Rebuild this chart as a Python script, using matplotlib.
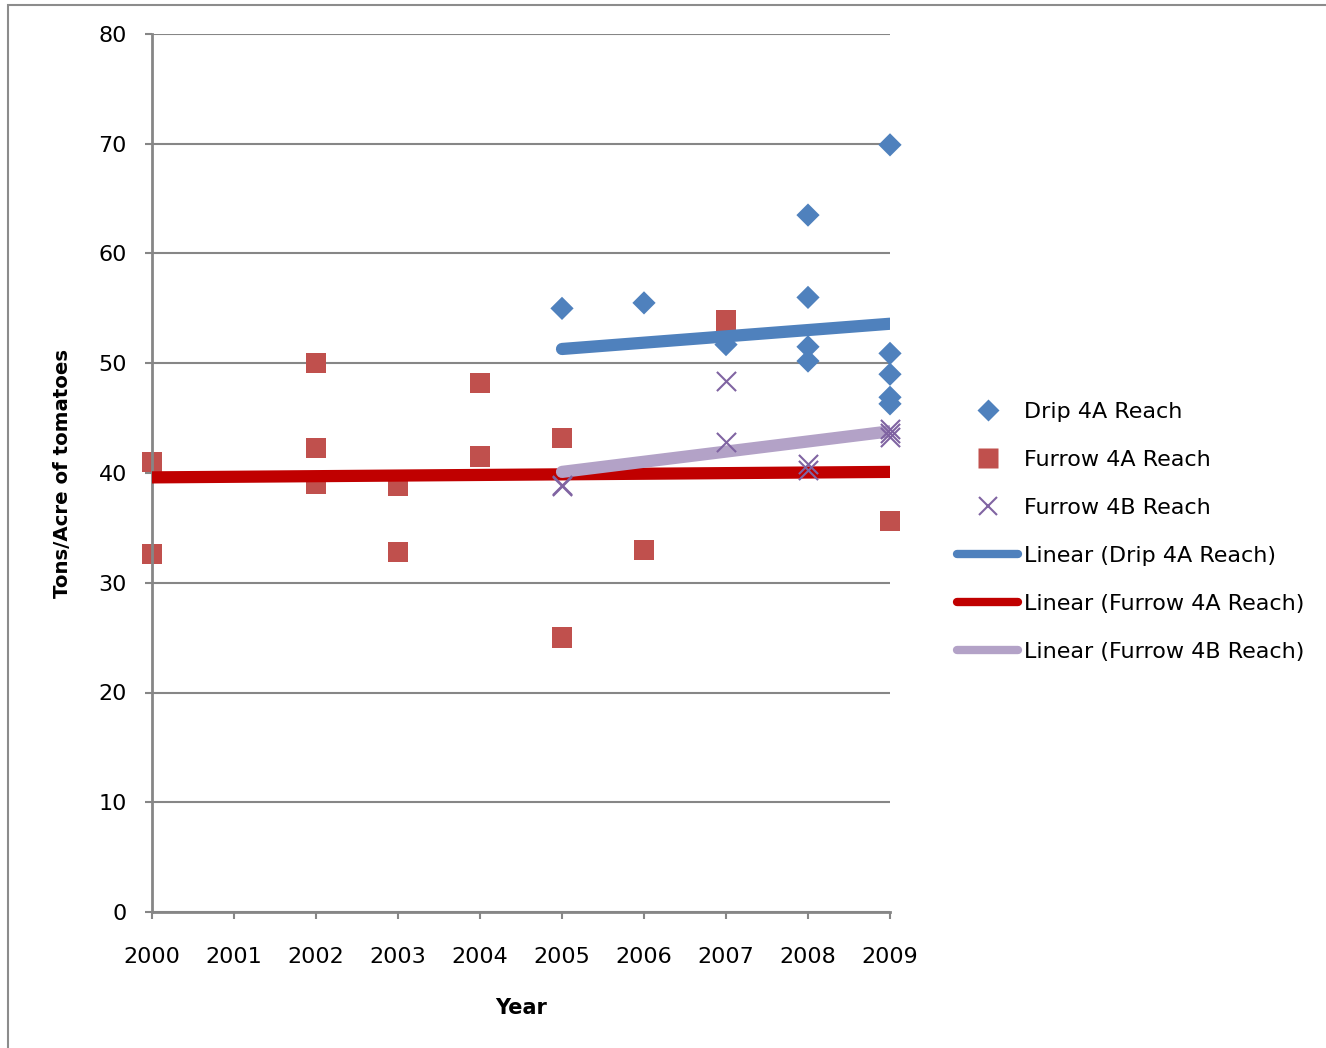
import numpy as np
import matplotlib
matplotlib.use("Agg")
import matplotlib.pyplot as plt
from matplotlib.patches import Rectangle
from matplotlib.lines import Line2D

# ---- data (tons/acre by year) ----
drip_4a_years = [2005, 2006, 2007, 2008, 2008, 2008, 2008, 2009, 2009, 2009, 2009, 2009]
drip_4a_vals = [55.0, 55.5, 51.7, 63.5, 56.0, 51.5, 50.2, 69.9, 50.9, 49.0, 46.9, 46.3]

furrow_4a_years = [2000, 2000, 2002, 2002, 2002, 2003, 2003, 2004, 2004, 2005, 2005, 2006, 2007, 2009]
furrow_4a_vals = [41.0, 32.6, 50.0, 42.3, 39.0, 38.8, 32.8, 48.2, 41.5, 43.2, 25.0, 33.0, 53.9, 35.6]

furrow_4b_years = [2005, 2005, 2007, 2007, 2008, 2008, 2009, 2009, 2009]
furrow_4b_vals = [38.8, 38.9, 48.4, 42.8, 40.8, 40.3, 44.0, 43.6, 43.3]

# linear trend lines (start/end values)
trend_drip_4a_years = [2005, 2009]
trend_drip_4a_vals = [51.3, 53.6]
trend_furrow_4a_years = [2000, 2009]
trend_furrow_4a_vals = [39.6, 40.1]
trend_furrow_4b_years = [2005, 2009]
trend_furrow_4b_vals = [40.1, 43.8]

year_ticks = list(range(2000, 2010))
yield_ticks = list(range(0, 90, 10))

# ---- colours ----
c_drip = "#4F81BD"
c_f4a = "#C0504D"
c_f4b = "#8064A2"
c_trend_drip = "#4F81BD"
c_trend_f4a = "#C00000"
c_trend_f4b = "#B3A2C7"
grid_grey = "#868686"

plt.rcParams["font.family"] = ["DejaVu Sans"]

fig = plt.figure(figsize=(13.26, 10.48), dpi=100)
ax = fig.add_axes([152 / 1326, 136 / 1048, 738 / 1326, 878 / 1048])

# outer chart border
fig.patches.append(Rectangle((8 / 1326, -0.05), 1.1, (1048 - 5) / 1048 + 0.05,
                             transform=fig.transFigure, fill=False,
                             edgecolor="#8c8c8c", linewidth=1.5, zorder=0))

# trend lines
lw_trend = 8.8
ax.plot(trend_drip_4a_years, trend_drip_4a_vals, color=c_trend_drip, lw=lw_trend,
        solid_capstyle="round", zorder=3)
ax.plot(trend_furrow_4a_years, trend_furrow_4a_vals, color=c_trend_f4a, lw=lw_trend,
        solid_capstyle="round", zorder=3)
ax.plot(trend_furrow_4b_years, trend_furrow_4b_vals, color=c_trend_f4b, lw=lw_trend,
        solid_capstyle="round", zorder=3)

# scatter points
ax.scatter(drip_4a_years, drip_4a_vals, marker="D", s=140, color=c_drip,
           edgecolor="none", zorder=4, clip_on=False)
ax.scatter(furrow_4a_years, furrow_4a_vals, marker="s", s=215, color=c_f4a,
           edgecolor="none", zorder=2, clip_on=False)
ax.scatter(furrow_4b_years, furrow_4b_vals, marker="x", s=190, color=c_f4b,
           linewidths=1.5, zorder=4, clip_on=False)

ax.set_xlim(2000, 2009)
ax.set_ylim(0, 80)
ax.set_xticks(year_ticks)
ax.set_xticklabels([str(y) for y in year_ticks])
ax.set_yticks(yield_ticks)

ax.grid(axis="y", color=grid_grey, linewidth=1.5)
ax.set_axisbelow(True)
for side in ["top", "right"]:
    ax.spines[side].set_visible(False)
for side in ["left", "bottom"]:
    ax.spines[side].set_color(grid_grey)
    ax.spines[side].set_linewidth(2)

ax.tick_params(axis="y", direction="out", length=5, width=1.5, color=grid_grey,
               labelsize=16, pad=13)
ax.tick_params(axis="x", direction="out", length=5, width=1.5, color=grid_grey,
               labelsize=16, pad=20)

ax.set_xlabel("Year", fontsize=15, fontweight="bold", labelpad=22.5)
ax.set_ylabel("Tons/Acre of tomatoes", fontsize=14.2, fontweight="bold", labelpad=19)

handles = [
    Line2D([], [], ls="none", marker="D", ms=11, color=c_drip, mec="none"),
    Line2D([], [], ls="none", marker="s", ms=14, color=c_f4a, mec="none"),
    Line2D([], [], ls="none", marker="x", ms=13, color=c_f4b, mew=1.5),
    Line2D([], [], color=c_trend_drip, lw=6, solid_capstyle="round"),
    Line2D([], [], color=c_trend_f4a, lw=6, solid_capstyle="round"),
    Line2D([], [], color=c_trend_f4b, lw=6, solid_capstyle="round"),
]
labels = ["Drip 4A Reach", "Furrow 4A Reach", "Furrow 4B Reach",
          "Linear (Drip 4A Reach)", "Linear (Furrow 4A Reach)", "Linear (Furrow 4B Reach)"]
fig.legend(handles, labels, loc="upper left", bbox_to_anchor=(957 / 1326, 1 - 402 / 1048),
           frameon=False, fontsize=16, handlelength=2.75, handletextpad=0.25,
           labelspacing=1.26, borderaxespad=0, borderpad=0)

fig.savefig("out.png", dpi=100)
